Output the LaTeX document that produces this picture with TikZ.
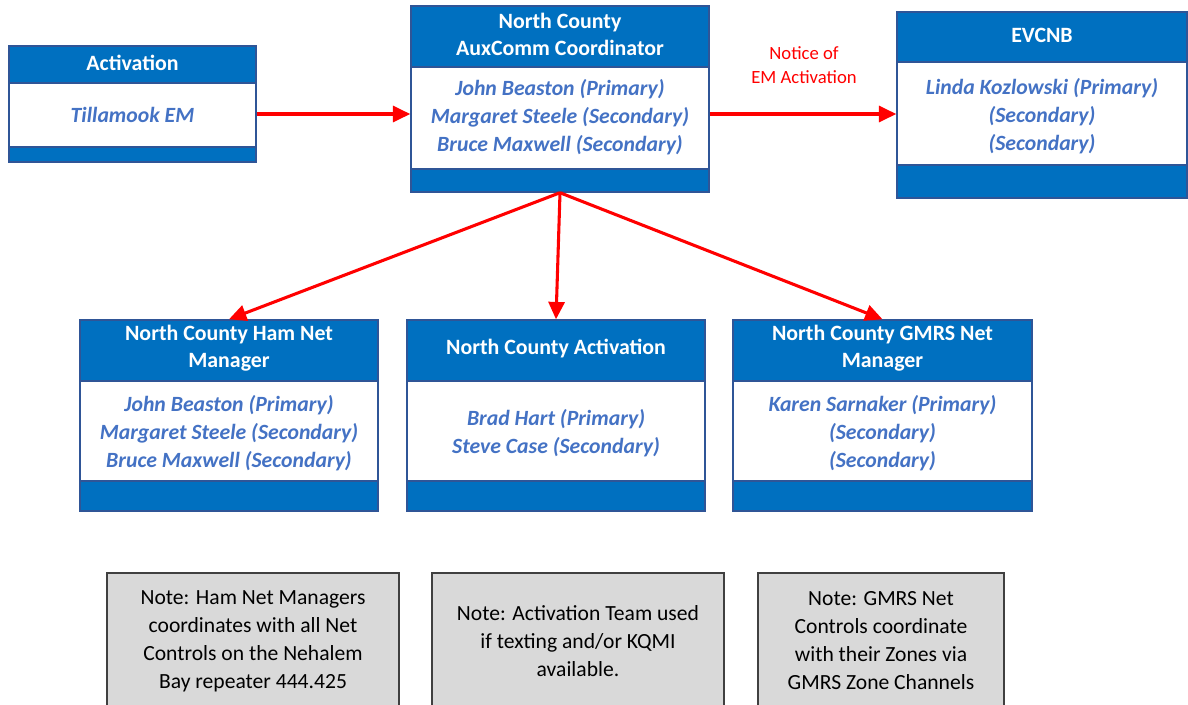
\documentclass[tikz,border=0pt]{standalone}
\usepackage{fontspec}
\setmainfont{Carlito}
\usetikzlibrary{fit,calc,arrows.meta}
\definecolor{hdrblue}{HTML}{0070C0}
\definecolor{bordblue}{HTML}{2F5597}
\definecolor{namec}{HTML}{4472C4}
\definecolor{notegray}{HTML}{D9D9D9}
\definecolor{notebord}{HTML}{404040}
\tikzset{
  hdrfill/.style={fill=hdrblue},
  frame/.style={draw=bordblue, line width=1.1pt, inner sep=0pt},
  hdrtext/.style={text=white, font=\fontsize{16.4}{20.5}\selectfont\bfseries, align=center, inner sep=0pt},
  nametext/.style={text=namec, font=\fontsize{16.3}{21}\selectfont\bfseries\itshape, align=center, inner sep=0pt},
  notebox/.style={fill=notegray, draw=notebord, line width=0.9pt, inner sep=0pt},
  notetext/.style={text=black, font=\fontsize{16.2}{21}\selectfont, align=center, inner sep=0pt},
  lbl/.style={text=red, font=\fontsize{14}{18}\selectfont, align=center, inner sep=0pt},
  arr/.style={draw=red, line width=2.3pt, -{Triangle[length=13pt,width=12pt]}},
}
% #1 name, #2 x1, #3 y1, #4 x2, #5 y header bottom, #6 y body bottom, #7 y2, #8 header, #9 body
\newcommand\orgbox[9]{%
  \fill[hdrfill] (#2,#3) rectangle (#4,#5);
  \fill[hdrfill] (#2,#6) rectangle (#4,#7);
  \draw[draw=bordblue, line width=0.8pt] (#2,#5) -- (#4,#5) (#2,#6) -- (#4,#6);
  \node[frame, fit={(#2,#3)(#4,#7)}] (#1) {};
  \node[hdrtext] (#1-h) at ($(#2,#3)!0.5!(#4,#5)+(0,-2)$) {#8};
  \node[nametext] (#1-b) at ($(#2,#5)!0.5!(#4,#6)+(0,\bodyshift)$) {#9};
}
\def\bodyshift{0}
\begin{document}
\begin{tikzpicture}[x=0.75pt, y=-0.75pt]
\useasboundingbox (0,0) rectangle (1188,704);
\clip (0,0) rectangle (1188,704);

\orgbox{act}{9}{46}{256}{83}{147}{162}{Activation}{Tillamook EM}
\def\bodyshift{-1}
\orgbox{coord}{411}{6}{709}{67}{169}{192}{North County\\AuxComm Coordinator}{John Beaston (Primary)\\Margaret Steele (Secondary)\\Bruce Maxwell (Secondary)}
\def\bodyshift{3}
\orgbox{evc}{897}{12}{1187}{62}{165}{198}{EVCNB}{Linda Kozlowski (Primary)\\(Secondary)\\(Secondary)}
\def\bodyshift{2}
\orgbox{ham}{80}{320}{378}{381}{481}{511}{North County Ham Net\\Manager}{John Beaston (Primary)\\Margaret Steele (Secondary)\\Bruce Maxwell (Secondary)}
\orgbox{mid}{407}{320}{705}{381}{481}{511}{North County Activation}{Brad Hart (Primary)\\Steve Case (Secondary)}
\orgbox{gmrs}{733}{320}{1032}{381}{481}{511}{North County GMRS Net\\Manager}{Karen Sarnaker (Primary)\\(Secondary)\\(Secondary)}

% notes
\node[notebox, fit={(107,573)(399,712)}] (n1) {};
\node[notetext] (n1t) at (253,641) {Note: Ham Net Managers\\coordinates with all Net\\Controls on the Nehalem\\Bay repeater 444.425};
\node[notebox, fit={(432,573)(724,712)}] (n2) {};
\node[notetext] (n2t) at (578,641) {Note: Activation Team used\\if texting and/or KQMI\\available.};
\node[notebox, fit={(758,573)(1004,712)}] (n3) {};
\node[notetext] (n3t) at (881,641) {Note: GMRS Net\\Controls coordinate\\with their Zones via\\GMRS Zone Channels};

% connectors
\coordinate (ay) at (0,114);
\draw[arr] (act.east |- ay) -- (coord.west |- ay);
\draw[arr] (coord.east |- ay) -- (evc.west |- ay);
\node[lbl] (notice) at (804,65) {Notice of\\EM Activation};
\draw[arr] (coord.south) -- (ham.north);
\draw[arr] (coord.south) -- (mid.north);
\draw[arr] (coord.south) -- (gmrs.north);
\end{tikzpicture}
\end{document}
